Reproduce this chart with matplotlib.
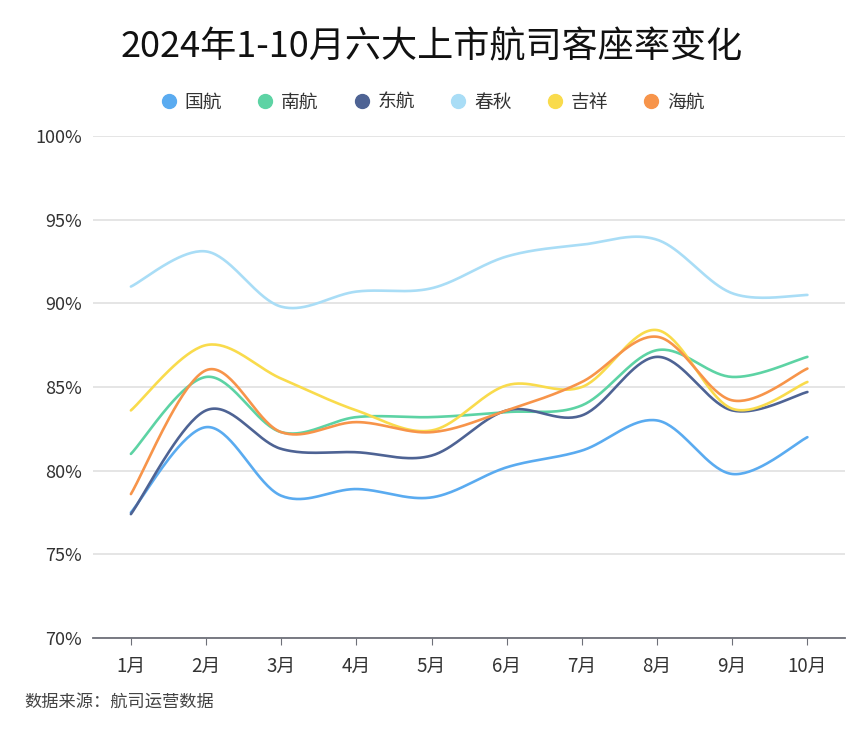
import numpy as np
import matplotlib.pyplot as plt
from matplotlib.ticker import FuncFormatter
from matplotlib.lines import Line2D

plt.rcParams['font.family'] = ['Noto Sans CJK SC', 'DejaVu Sans']

months = ['1月', '2月', '3月', '4月', '5月', '6月', '7月', '8月', '9月', '10月']
guohang = [77.5, 82.6, 78.5, 78.9, 78.4, 80.2, 81.2, 83.0, 79.8, 82.0]
nanhang = [81.0, 85.6, 82.3, 83.2, 83.2, 83.5, 83.9, 87.2, 85.6, 86.8]
donghang = [77.4, 83.6, 81.3, 81.1, 80.9, 83.6, 83.3, 86.8, 83.6, 84.7]
chunqiu = [91.0, 93.1, 89.8, 90.7, 90.9, 92.8, 93.5, 93.8, 90.6, 90.5]
jixiang = [83.6, 87.5, 85.5, 83.6, 82.4, 85.1, 85.0, 88.4, 83.7, 85.3]
haihang = [78.6, 86.0, 82.3, 82.9, 82.3, 83.6, 85.3, 88.0, 84.2, 86.1]

names = ['国航', '南航', '东航', '春秋', '吉祥', '海航']
series = [guohang, nanhang, donghang, chunqiu, jixiang, haihang]
colors = ['#5AABF0', '#5DD3A4', '#4E6394', '#A9DDF6', '#F9DB4C', '#F7944A']


def smooth(xs, ys, n=40):
    # catmull-rom through the points, drawn as cubic beziers
    xs = np.asarray(xs, float)
    ys = np.asarray(ys, float)
    m = len(xs)
    s = np.linspace(0, 1, n)
    outx, outy = [], []
    for i in range(m - 1):
        x0, y0 = xs[i], ys[i]
        x1, y1 = xs[i + 1], ys[i + 1]
        xp, yp = (xs[i - 1], ys[i - 1]) if i > 0 else (x0, y0)
        xn, yn = (xs[i + 2], ys[i + 2]) if i + 2 < m else (x1, y1)
        c1x, c1y = x0 + (x1 - xp) / 6, y0 + (y1 - yp) / 6
        c2x, c2y = x1 - (xn - x0) / 6, y1 - (yn - y0) / 6
        bx = (1-s)**3*x0 + 3*(1-s)**2*s*c1x + 3*(1-s)*s**2*c2x + s**3*x1
        by = (1-s)**3*y0 + 3*(1-s)**2*s*c1y + 3*(1-s)*s**2*c2y + s**3*y1
        outx.extend(bx)
        outy.extend(by)
    return outx, outy


fig = plt.figure(figsize=(8.64, 7.35), dpi=100)
ax = fig.add_axes([0.108, 0.132, 0.870, 0.683])

x = np.arange(len(months))
for ys, c in zip(series, colors):
    sx, sy = smooth(x, ys)
    ax.plot(sx, sy, color=c, lw=1.9, solid_capstyle='round')

ax.set_xlim(-0.5, 9.5)
ax.set_ylim(70, 100)
ax.set_yticks([70, 75, 80, 85, 90, 95, 100])
ax.yaxis.set_major_formatter(FuncFormatter(lambda v, p: f'{v:.0f}%'))
ax.set_xticks(x)
ax.set_xticklabels(months)
ax.grid(axis='y', color='#E0E0E0', lw=1.2)
ax.set_axisbelow(True)
for sp in ['top', 'right', 'left']:
    ax.spines[sp].set_visible(False)
ax.spines['bottom'].set_color('#6E7079')
ax.spines['bottom'].set_linewidth(1.3)
ax.tick_params(axis='y', length=0, labelsize=13, colors='#333333', pad=8)
ax.tick_params(axis='x', length=5, color='#6E7079', labelsize=13.5, labelcolor='#333333', pad=8)

fig.text(0.5, 0.935, '2024年1-10月六大上市航司客座率变化', ha='center', va='center',
         fontsize=26, fontweight='medium', color='#111111')

handles = [Line2D([0], [0], marker='o', ls='', markersize=10, markerfacecolor=c,
                  markeredgecolor=c) for c in colors]
fig.legend(handles, names, loc='center', bbox_to_anchor=(0.5, 0.861), ncol=6,
           frameon=False, fontsize=13.5, handlelength=1.0, handletextpad=0.35,
           columnspacing=1.8, labelcolor='#333333')

fig.text(0.028, 0.046, '数据来源：航司运营数据', ha='left', va='center', fontsize=12.4, color='#444444')

fig.savefig('out.png', dpi=100)
